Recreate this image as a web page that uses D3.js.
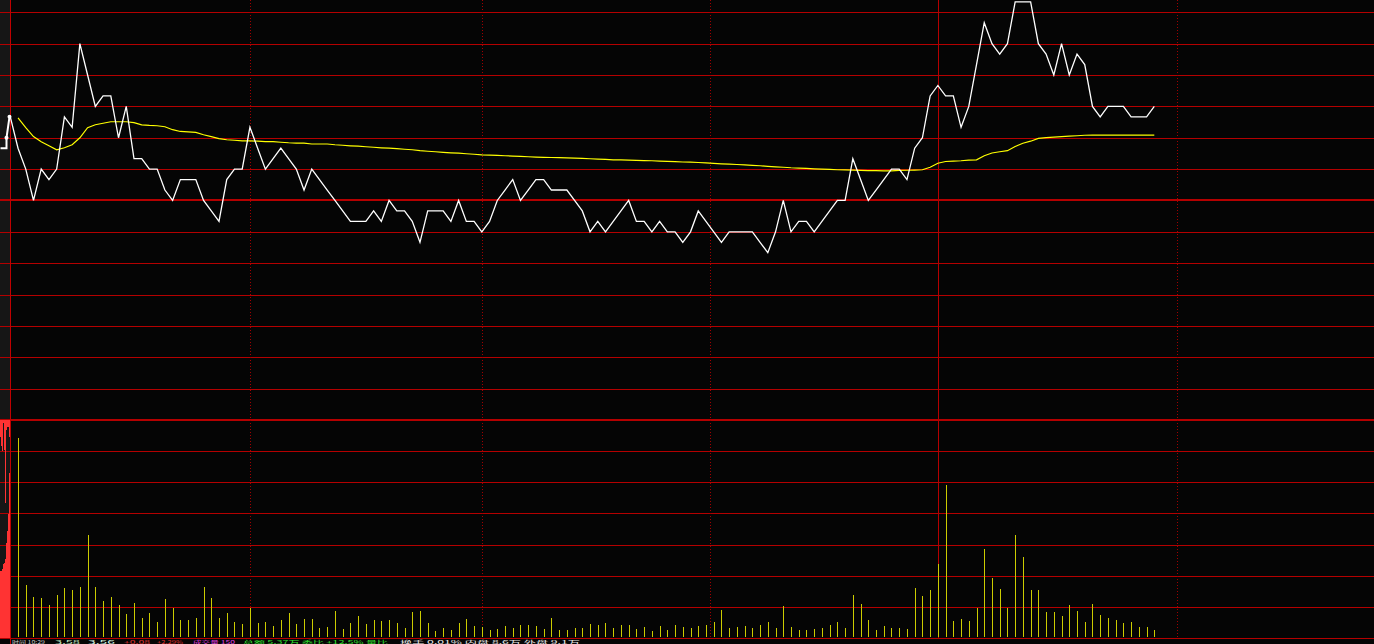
<!DOCTYPE html>
<html><head><meta charset="utf-8">
<script src="https://cdn.jsdelivr.net/npm/d3@7/dist/d3.min.js"></script>
<style>html,body{margin:0;padding:0;background:#050505;overflow:hidden}</style>
</head><body>
<svg id="c" width="1374" height="644"></svg>
<script>
// ---------------- data ----------------
const prevClose = 3.50;
const priceGridTicks = [3.29,3.32,3.35,3.38,3.41,3.44,3.47,3.50,3.53,3.56,3.59,3.62,3.65,3.68];
const volumeGridTicks = [0,600,1200,1800,2400,3000,3600,4200];
const timeGridIdx = [31, 61, 90.5, 120, 151];
const timeGridSolid = [false, false, false, true, false];

const prices = [
 3.58,3.55,3.53,3.50,3.53,3.52,3.53,3.58,3.57,3.65,
 3.62,3.59,3.60,3.60,3.56,3.59,3.54,3.54,3.53,3.53,
 3.51,3.50,3.52,3.52,3.52,3.50,3.49,3.48,3.52,3.53,
 3.53,3.57,3.55,3.53,3.54,3.55,3.54,3.53,3.51,3.53,
 3.52,3.51,3.50,3.49,3.48,3.48,3.48,3.49,3.48,3.50,
 3.49,3.49,3.48,3.46,3.49,3.49,3.49,3.48,3.50,3.48,
 3.48,3.47,3.48,3.50,3.51,3.52,3.50,3.51,3.52,3.52,
 3.51,3.51,3.51,3.50,3.49,3.47,3.48,3.47,3.48,3.49,
 3.50,3.48,3.48,3.47,3.48,3.47,3.47,3.46,3.47,3.49,
 3.48,3.47,3.46,3.47,3.47,3.47,3.47,3.46,3.45,3.47,
 3.50,3.47,3.48,3.48,3.47,3.48,3.49,3.50,3.50,3.54,
 3.52,3.50,3.51,3.52,3.53,3.53,3.52,3.55,3.56,3.60,
 3.61,3.60,3.60,3.57,3.59,3.63,3.67,3.65,3.64,3.65,
 3.69,3.69,3.69,3.65,3.64,3.62,3.65,3.62,3.64,3.63,
 3.59,3.58,3.59,3.59,3.59,3.58,3.58,3.58,3.59
];

const avgPrices = [
 null,3.5789,3.5696,3.5611,3.5562,3.5524,3.5485,3.5504,3.5533,3.5600,
 3.5696,3.5724,3.5739,3.5753,3.5753,3.5753,3.5744,3.5724,3.5718,3.5715,
 3.5705,3.5677,3.5660,3.5657,3.5651,3.5629,3.5610,3.5591,3.5581,3.5576,
 3.5571,3.5571,3.5567,3.5562,3.5562,3.5557,3.5552,3.5549,3.5549,3.5540,
 3.5540,3.5540,3.5533,3.5528,3.5523,3.5519,3.5514,3.5509,3.5504,3.5500,
 3.5495,3.5490,3.5485,3.5476,3.5471,3.5466,3.5461,3.5456,3.5452,3.5447,
 3.5442,3.5437,3.5434,3.5432,3.5428,3.5425,3.5422,3.5418,3.5415,3.5413,
 3.5411,3.5409,3.5407,3.5405,3.5403,3.5399,3.5396,3.5393,3.5389,3.5388,
 3.5386,3.5384,3.5382,3.5380,3.5377,3.5374,3.5371,3.5368,3.5366,3.5363,
 3.5359,3.5355,3.5351,3.5347,3.5344,3.5340,3.5336,3.5332,3.5327,3.5322,
 3.5318,3.5313,3.5310,3.5307,3.5303,3.5300,3.5298,3.5294,3.5292,3.5290,
 3.5288,3.5286,3.5285,3.5284,3.5284,3.5287,3.5289,3.5291,3.5294,3.5318,
 3.5356,3.5373,3.5377,3.5380,3.5385,3.5389,3.5428,3.5454,3.5466,3.5476,
 3.5517,3.5547,3.5567,3.5594,3.5602,3.5606,3.5610,3.5615,3.5619,3.5624,
 3.5626,3.5626,3.5626,3.5626,3.5626,3.5626,3.5626,3.5626,3.5626
];

const volumes = [
 null,3850,1020,790,770,640,830,970,930,980,
 1990,980,710,790,640,460,680,390,480,310,
 750,580,350,350,390,990,770,390,480,310,
 270,580,290,310,230,350,480,270,370,370,
 190,210,520,170,290,420,270,350,330,350,
 290,190,500,520,290,140,190,150,290,370,
 230,210,150,170,230,190,250,250,230,170,
 390,150,150,190,190,270,250,290,190,250,
 250,170,210,140,230,150,250,210,190,230,
 250,310,540,190,210,230,190,250,310,190,
 620,210,150,150,170,190,250,310,190,830,
 660,350,150,230,190,190,170,970,810,930,
 1430,2950,330,370,330,580,1720,1160,950,580,
 1990,1560,930,930,500,500,420,640,520,310,
 660,440,390,350,290,310,210,210,150
];

// call-auction strip (left margin)
const auctionIdx = [0, 2, 2, 3];
const auctionPrice = [3.55, 3.55, 3.56, 3.58];
const auctionDot = [false, false, true, true];
const stripRise = [1290,1290,1330,1430,1450,1520,1830,2070,2390,3170];
const stripHang = [330,500,600,60,580,1600,190,140,140,330];

// status-bar labels (only their top edge shows at the bottom of the window)
const statusLabels = [
 {x:12,  w:33,  t:"时间 10:29", c:"#c8c8c8"},
 {x:55,  w:25,  t:"3.58", c:"#c8f0c8"},
 {x:88,  w:27,  t:"3.56", c:"#d8f8e8"},
 {x:124, w:26,  t:"+0.08", c:"#e03030"},
 {x:157, w:26,  t:"+2.29%", c:"#e03030"},
 {x:193, w:42,  t:"成交量 150", c:"#e040e0"},
 {x:243, w:145, t:"总额 5.37万 委比 +12.5% 量比", c:"#30e030"},
 {x:400, w:180, t:"换手 0.01% 内盘 8.6万 外盘 9.1万", c:"#e8e8e8"}
];

// ---------------- drawing ----------------
const W = 1374, H = 644;
const svg = d3.select('#c');
svg.append('rect').attr('width', W).attr('height', H).attr('fill', '#050505');

const x = d3.scaleLinear().domain([0, 148]).range([10.3, 1154.3]);
const y = d3.scaleLinear().domain([3.29, 3.68]).range([420, 12.3]);
const yv = d3.scaleLinear().domain([0, 4200]).range([638, 420]);
const sx = d3.scaleBand().domain(d3.range(10)).range([0, 10]);
const ax = d3.scaleLinear().domain([0, 3]).range([0.5, 9.5]);

const crisp = v => Math.round(v) + 0.5;

// left strip background
svg.append('rect').attr('x', 0).attr('y', 0).attr('width', 10).attr('height', 638).attr('fill', '#161616');

// horizontal grid
const grid = svg.append('g').attr('shape-rendering', 'crispEdges');
grid.selectAll('line.p').data(priceGridTicks).join('line')
  .attr('class', 'p')
  .attr('x1', 0).attr('x2', W)
  .attr('y1', d => Math.abs(d - prevClose) < 1e-6 ? Math.round(y(d)) : crisp(y(d)))
  .attr('y2', d => Math.abs(d - prevClose) < 1e-6 ? Math.round(y(d)) : crisp(y(d)))
  .attr('stroke', '#b40000')
  .attr('stroke-width', d => Math.abs(d - prevClose) < 1e-6 ? 2 : 1);
grid.selectAll('line.v').data(volumeGridTicks).join('line')
  .attr('class', 'v')
  .attr('x1', 0).attr('x2', W)
  .attr('y1', d => d === 4200 ? Math.round(yv(d)) : crisp(yv(d)))
  .attr('y2', d => d === 4200 ? Math.round(yv(d)) : crisp(yv(d)))
  .attr('stroke', '#b40000')
  .attr('stroke-width', d => d === 4200 ? 2 : 1);

// vertical grid
grid.selectAll('line.t').data(timeGridIdx).join('line')
  .attr('class', 't')
  .attr('x1', d => crisp(x(d))).attr('x2', d => crisp(x(d)))
  .attr('y1', 0).attr('y2', 638)
  .attr('stroke', (d, i) => timeGridSolid[i] ? '#b40000' : '#a00000')
  .attr('stroke-dasharray', (d, i) => timeGridSolid[i] ? null : '1,2');
grid.append('line')
  .attr('x1', crisp(x(0)) - 0.5).attr('x2', crisp(x(0)) - 0.5)
  .attr('y1', 0).attr('y2', 644).attr('stroke', '#c00000');

// strip bars
const strip = svg.append('g').attr('shape-rendering', 'crispEdges');
strip.selectAll('rect.r').data(stripRise).join('rect')
  .attr('x', (d, i) => sx(i)).attr('width', sx.bandwidth())
  .attr('y', d => yv(d)).attr('height', d => yv(0) - yv(d))
  .attr('fill', '#ff3333');
strip.selectAll('rect.h').data(stripHang).join('rect')
  .attr('x', (d, i) => sx(i)).attr('width', sx.bandwidth())
  .attr('y', yv(4200)).attr('height', d => yv(4200 - d) - yv(4200))
  .attr('fill', '#ff3333');

// volume bars
svg.append('g').attr('shape-rendering', 'crispEdges')
  .selectAll('rect').data(volumes.map((v, i) => ({v, i})).filter(d => d.v != null)).join('rect')
  .attr('x', d => Math.round(x(d.i)))
  .attr('width', 1)
  .attr('y', d => yv(d.v))
  .attr('height', d => yv(0) - 1 - yv(d.v))
  .attr('fill', '#cccc00');

// average line
const avgLine = d3.line().defined(d => d != null).x((d, i) => x(i)).y(d => y(d));
svg.append('path').datum(avgPrices)
  .attr('d', avgLine).attr('fill', 'none').attr('stroke', '#ffff00').attr('stroke-width', 1.2);

// price line
const priceLine = d3.line().x((d, i) => x(i)).y(d => y(d));
svg.append('path').datum(prices)
  .attr('d', priceLine).attr('fill', 'none').attr('stroke', '#ffffff').attr('stroke-width', 1.3);

// auction mini line
const aPts = auctionIdx.map((k, i) => [ax(k), y(auctionPrice[i]), auctionDot[i]]);
svg.append('path').datum(aPts)
  .attr('d', d3.line().x(d => d[0]).y(d => d[1]))
  .attr('fill', 'none').attr('stroke', '#ffffff').attr('stroke-width', 2);
svg.selectAll('circle.a').data(aPts.filter(d => d[2])).join('circle')
  .attr('class', 'a').attr('cx', d => d[0]).attr('cy', d => d[1]).attr('r', 2).attr('fill', '#ffffff');

// status labels squeezed into the bottom pixel row
svg.selectAll('text.s').data(statusLabels).join('text')
  .attr('class', 's').attr('x', d => d.x).attr('y', 643.5)
  .attr('fill', d => d.c).attr('font-size', 5)
  .attr('textLength', d => d.w).attr('lengthAdjust', 'spacingAndGlyphs')
  .attr('font-family', 'Noto Sans CJK SC, DejaVu Sans, sans-serif')
  .text(d => d.t);
</script>
</body></html>
